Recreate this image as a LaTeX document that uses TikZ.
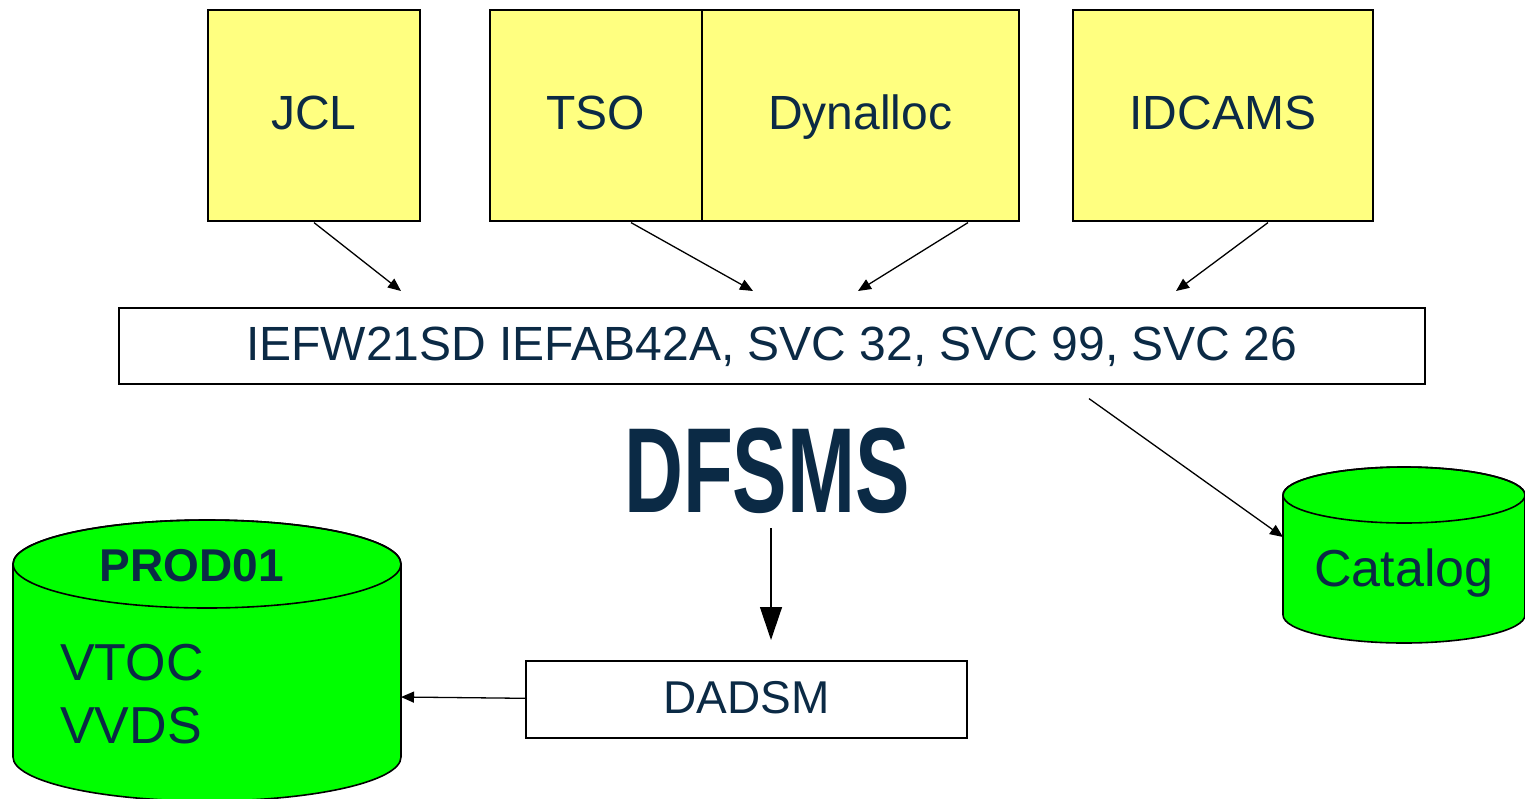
\documentclass[tikz,border=0pt]{standalone}
\usepackage{fontspec}
\setmainfont{Liberation Sans}
\usetikzlibrary{arrows.meta,calc}
\definecolor{txt}{RGB}{11,42,69}
\definecolor{yel}{RGB}{255,255,128}
\definecolor{grn}{RGB}{0,255,0}
\tikzset{
  ybox/.style={draw=black,line width=1.6pt,fill=yel,inner sep=0pt,anchor=north west,text=txt,font=\fontsize{48}{56}\selectfont,text height=34pt,text depth=5pt},
  wbox/.style={draw=black,line width=1.6pt,fill=white,inner sep=0pt,anchor=north west,text=txt,font=\fontsize{48}{54}\selectfont,text height=34pt,text depth=5pt},
  conn/.style={line width=1.3pt,-{Triangle[length=13pt,width=11pt]}},
  bigconn/.style={line width=1.3pt,-{Triangle[length=33pt,width=22pt]}},
  cyl/.style={draw=black,line width=1.6pt,fill=grn},
  lbl/.style={text=txt,inner sep=0pt}
}
\begin{document}
\begin{tikzpicture}[x=1pt,y=-1pt]
\useasboundingbox (0,0) rectangle (1525,798);
% top boxes
\node[ybox,minimum width=212pt,minimum height=211pt] (jcl) at (207,9) {JCL};
\node[ybox,minimum width=212pt,minimum height=211pt] (tso) at (489,9) {TSO};
\node[ybox,minimum width=317pt,minimum height=211pt] (dyn) at (701,9) {Dynalloc};
\node[ybox,minimum width=300pt,minimum height=211pt] (idc) at (1072,9) {IDCAMS};
% middle box
\node[wbox,minimum width=1306pt,minimum height=76pt] (svc) at (118,307) {IEFW21SD IEFAB42A, SVC 32, SVC 99, SVC 26};
% DFSMS
\node[lbl,font=\bfseries\fontsize{121}{130}\selectfont] (dfsms) at (767,471) {\scalebox{0.675}[1]{DFSMS}};
% DADSM
\node[wbox,minimum width=441pt,minimum height=77pt,font=\fontsize{46}{54}\selectfont] (dadsm) at (525,660) {DADSM};
% PROD01 cylinder
\path[cyl] (13,564) -- (13,757) arc[start angle=180,end angle=0,x radius=194,y radius=44] -- (401,564) arc[start angle=0,end angle=-180,x radius=194,y radius=44] -- cycle;
\draw[line width=1.6pt] (207,564) ellipse[x radius=194,y radius=44];
\node[lbl,font=\bfseries\fontsize{46}{50}\selectfont] (prod) at (192,566) {PROD01};
\node[lbl,font=\fontsize{52}{63}\selectfont,align=left,anchor=north west] (vtoc) at (60,644) {VTOC\\VVDS};
\coordinate (prodin) at (401,697);
% Catalog cylinder
\path[cyl] (1283,495) -- (1283,615) arc[start angle=180,end angle=0,x radius=121,y radius=28] -- (1525,495) arc[start angle=0,end angle=-180,x radius=121,y radius=28] -- cycle;
\draw[line width=1.6pt] (1404,495) ellipse[x radius=121,y radius=28];
\node[lbl,font=\fontsize{52}{60}\selectfont] (cat) at (1404,573) {Catalog};
\coordinate (catin) at (1283,537);
% connectors
\draw[conn] ($(jcl.south west)+(107,1)$) -- ($(svc.north west)+(283,-16)$);
\draw[conn] ($(tso.south west)+(142,1)$) -- ($(svc.north west)+(635,-16)$);
\draw[conn] ($(dyn.south west)+(267,1)$) -- ($(svc.north west)+(740,-16)$);
\draw[conn] ($(idc.south west)+(196,1)$) -- ($(svc.north west)+(1058,-16)$);
\draw[conn] ($(svc.south west)+(971,14)$) -- (catin);
\draw[bigconn] ($(dfsms.south)+(4,14)$) -- ($(dadsm.north west)+(246,-20)$);
\draw[conn] ($(dadsm.west)+(0,-1)$) -- (prodin);
\end{tikzpicture}
\end{document}
